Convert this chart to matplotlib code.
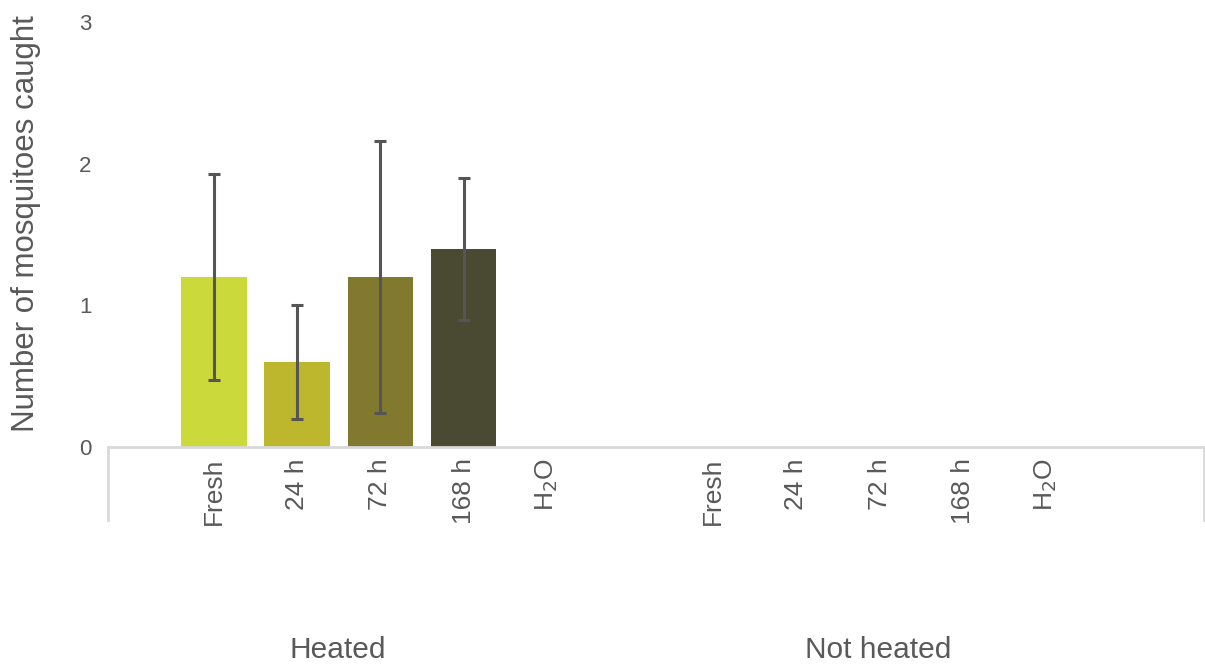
import numpy as np
import matplotlib
matplotlib.use("Agg")
import matplotlib.pyplot as plt

plt.rcParams['font.family'] = ['Liberation Sans', 'DejaVu Sans']

# mean catch per bait age, with error bars
ages = ["Fresh", "24 h", "72 h", "168 h", "H$_2$O"]
groups = ["Heated", "Not heated"]
heated_mean = [1.2, 0.6, 1.2, 1.4, 0.0]
heated_err = [0.73, 0.4, 0.96, 0.5, 0.0]
not_heated_mean = [0.0, 0.0, 0.0, 0.0, 0.0]
not_heated_err = [0.0, 0.0, 0.0, 0.0, 0.0]
bar_colors = ["#CCD93A", "#BDB72D", "#80792E", "#4A4932", "#3A3A2A"]

text_col = "#595959"
axis_col = "#D9D9D9"

fig = plt.figure(figsize=(12.05, 6.68), dpi=100)
ax = fig.add_axes([108 / 1205, 1 - 447 / 668, 1096 / 1205, 425 / 668])

x_h = np.arange(len(ages))
x_n = x_h + len(ages) + 1

ax.bar(x_h, heated_mean, width=0.79, color=bar_colors)
ax.errorbar(x_h[:4], heated_mean[:4], yerr=heated_err[:4], fmt="none",
            ecolor="#555555", elinewidth=2.2, capsize=4, capthick=2.2)
ax.bar(x_n, not_heated_mean, width=0.79, color=bar_colors)

ax.set_xlim(-1.274, 11.9)
ax.set_ylim(0, 3)
ax.set_yticks([0, 1, 2, 3])
ax.tick_params(axis="y", length=0, pad=12, labelsize=16, labelcolor=text_col)

ax.set_xticks(np.concatenate([x_h, x_n]))
ax.set_xticklabels(ages + ages, rotation=90, va="top", ha="center")
ax.tick_params(axis="x", length=0, pad=8, labelsize=19, labelcolor=text_col)

for s in ["left", "top", "right"]:
    ax.spines[s].set_visible(False)
ax.spines["bottom"].set_color(axis_col)
ax.spines["bottom"].set_linewidth(2)

# group separators below the axis
trans = ax.get_xaxis_transform()
for xv in ax.get_xlim():
    ax.plot([xv, xv], [0, -0.172], color=axis_col, lw=2, transform=trans,
            clip_on=False)

# group names
ax.text(1.49, -0.478, groups[0], transform=trans, ha="center", va="center",
        fontsize=21.5, color=text_col)
ax.text(7.98, -0.478, groups[1], transform=trans, ha="center", va="center",
        fontsize=21.5, color=text_col)

ax.set_ylabel("Number of mosquitoes caught", fontsize=22.5, color=text_col)
ax.yaxis.set_label_coords(-0.061, 0.525)

fig.savefig("out.png", dpi=100)
